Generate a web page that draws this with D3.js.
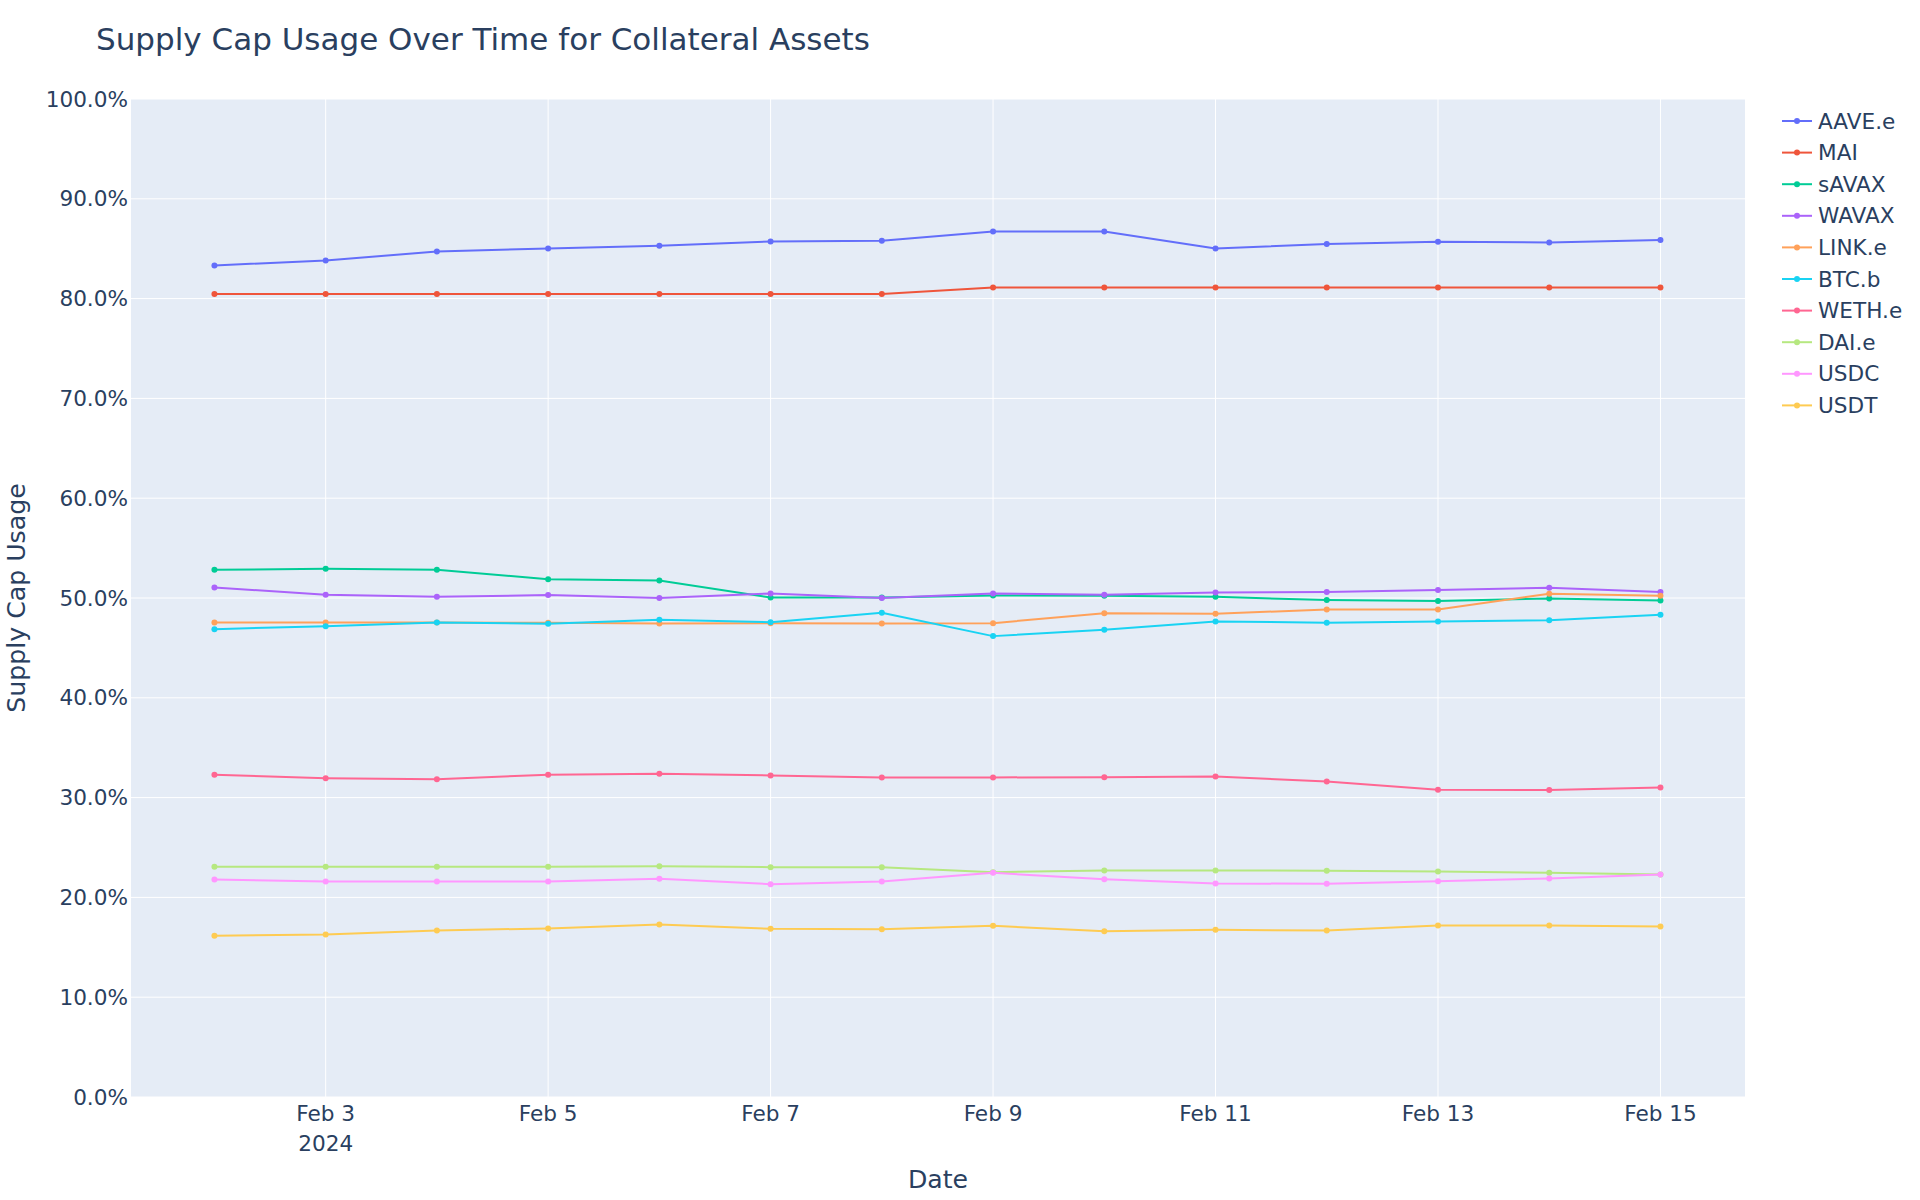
<!DOCTYPE html>
<html><head><meta charset="utf-8">
<script src="https://cdn.jsdelivr.net/npm/d3@7"></script>
<style>
body{margin:0;background:#fff}
text{font-family:"DejaVu Sans",sans-serif;fill:#2a3f5f}
</style>
</head><body><svg id="chart" width="1920" height="1200"></svg>
<script>
const dates = ["2024-02-02","2024-02-03","2024-02-04","2024-02-05","2024-02-06","2024-02-07","2024-02-08",
               "2024-02-09","2024-02-10","2024-02-11","2024-02-12","2024-02-13","2024-02-14","2024-02-15"];
const assets = ["AAVE.e","MAI","sAVAX","WAVAX","LINK.e","BTC.b","WETH.e","DAI.e","USDC","USDT"];
const colors = ["#636efa","#EF553B","#00cc96","#ab63fa","#FFA15A","#19d3f3","#FF6692","#B6E880","#FF97FF","#FECB52"];

const aaveE  = [0.8332,0.8382,0.8472,0.8502,0.8529,0.8572,0.8579,0.8672,0.8672,0.8502,0.8546,0.8569,0.8562,0.8586];
const mai    = [0.8045,0.8045,0.8045,0.8045,0.8045,0.8045,0.8045,0.8111,0.8111,0.8111,0.8111,0.8111,0.8111,0.8111];
const sAvax  = [0.5283,0.5293,0.5283,0.5189,0.5175,0.5005,0.5005,0.5025,0.5022,0.5012,0.4979,0.4969,0.4995,0.4975];
const wAvax  = [0.5105,0.5032,0.5012,0.5029,0.4999,0.5045,0.4999,0.5045,0.5032,0.5055,0.5059,0.5079,0.5102,0.5059];
const linkE  = [0.4755,0.4755,0.4755,0.4752,0.4745,0.4748,0.4745,0.4748,0.4848,0.4842,0.4885,0.4885,0.5042,0.5022];
const btcB   = [0.4688,0.4718,0.4755,0.4741,0.4782,0.4758,0.4852,0.4618,0.4681,0.4765,0.4752,0.4765,0.4778,0.4832];
const wethE  = [0.3229,0.3195,0.3185,0.3229,0.3239,0.3222,0.3202,0.3202,0.3205,0.3212,0.3162,0.3078,0.3075,0.3101];
const daiE   = [0.2307,0.2307,0.2307,0.2307,0.2313,0.2303,0.2303,0.2253,0.2270,0.2270,0.2267,0.2260,0.2246,0.2230];
const usdc   = [0.2180,0.2160,0.2160,0.2160,0.2186,0.2133,0.2160,0.2246,0.2183,0.2140,0.2136,0.2163,0.2190,0.2230];
const usdt   = [0.1615,0.1628,0.1669,0.1689,0.1729,0.1685,0.1682,0.1715,0.1662,0.1675,0.1669,0.1719,0.1719,0.1709];
const seriesValues = [aaveE,mai,sAvax,wAvax,linkE,btcB,wethE,daiE,usdc,usdt];

const xTickDates = ["2024-02-03","2024-02-05","2024-02-07","2024-02-09","2024-02-11","2024-02-13","2024-02-15"];
const yTicks = [0,0.1,0.2,0.3,0.4,0.5,0.6,0.7,0.8,0.9,1.0];

const svg = d3.select("#chart");
const L = 131, R = 1745, T = 99, B = 1097;
const parse = d3.utcParse("%Y-%m-%d");
const day = 86400000;
const d0 = parse(dates[0]), d1 = parse(dates[dates.length-1]);
const x = d3.scaleUtc().domain([new Date(+d0 - 0.75*day), new Date(+d1 + 0.76*day)]).range([L, R]);
const y = d3.scaleLinear().domain([0,1]).range([B, T]);

svg.append("rect").attr("x",L).attr("y",T).attr("width",R-L).attr("height",B-T).attr("fill","#E5ECF6");

// grid
const g = svg.append("g");
g.selectAll(".vg").data(xTickDates.map(parse)).join("line")
  .attr("x1",d=>x(d)).attr("x2",d=>x(d)).attr("y1",T).attr("y2",B)
  .attr("stroke","#fff").attr("stroke-width",1);
g.selectAll(".hg").data(yTicks).join("line")
  .attr("x1",L).attr("x2",R).attr("y1",d=>y(d)).attr("y2",d=>y(d))
  .attr("stroke","#fff").attr("stroke-width",1);

// y axis labels
const fmt = d3.format(".1%");
svg.append("g").selectAll("text").data(yTicks).join("text")
  .attr("x",L-3).attr("y",d=>y(d)).attr("dy","0.35em")
  .attr("text-anchor","end").attr("font-size",21.6).text(d=>fmt(d));

// x axis labels
const xl = svg.append("g");
xl.selectAll("text").data(xTickDates.map(parse)).join("text")
  .attr("x",d=>x(d)).attr("y",1121).attr("text-anchor","middle").attr("font-size",21.6)
  .text(d=>d3.utcFormat("%b %-d")(d));
xl.append("text").attr("x",x(parse(xTickDates[0]))).attr("y",1151)
  .attr("text-anchor","middle").attr("font-size",21.6).text("2024");

// axis titles
svg.append("text").attr("x",(L+R)/2).attr("y",1188).attr("text-anchor","middle")
  .attr("font-size",25.2).text("Date");
svg.append("text").attr("transform",`translate(25,${(T+B)/2}) rotate(-90)`)
  .attr("text-anchor","middle").attr("font-size",25.2).text("Supply Cap Usage");

// title
svg.append("text").attr("x",96).attr("y",50).attr("font-size",31)
  .text("Supply Cap Usage Over Time for Collateral Assets");

// lines
const line = d3.line().x((d,i)=>x(parse(dates[i]))).y(d=>y(d));
seriesValues.forEach((vals,k)=>{
  const sg = svg.append("g");
  sg.append("path").datum(vals).attr("d",line).attr("fill","none")
    .attr("stroke",colors[k]).attr("stroke-width",2).attr("stroke-linejoin","round");
  sg.selectAll("circle").data(vals).join("circle")
    .attr("cx",(d,i)=>x(parse(dates[i]))).attr("cy",d=>y(d)).attr("r",3)
    .attr("fill",colors[k]);
});

// legend
const lg = svg.append("g");
assets.forEach((a,k)=>{
  const cy = 121 + k*31.6;
  lg.append("line").attr("x1",1782).attr("x2",1812).attr("y1",cy).attr("y2",cy)
    .attr("stroke",colors[k]).attr("stroke-width",2);
  lg.append("circle").attr("cx",1797).attr("cy",cy).attr("r",3).attr("fill",colors[k]);
  lg.append("text").attr("x",1818).attr("y",cy).attr("dy","0.35em")
    .attr("font-size",21.6).text(a);
});
</script></body></html>
